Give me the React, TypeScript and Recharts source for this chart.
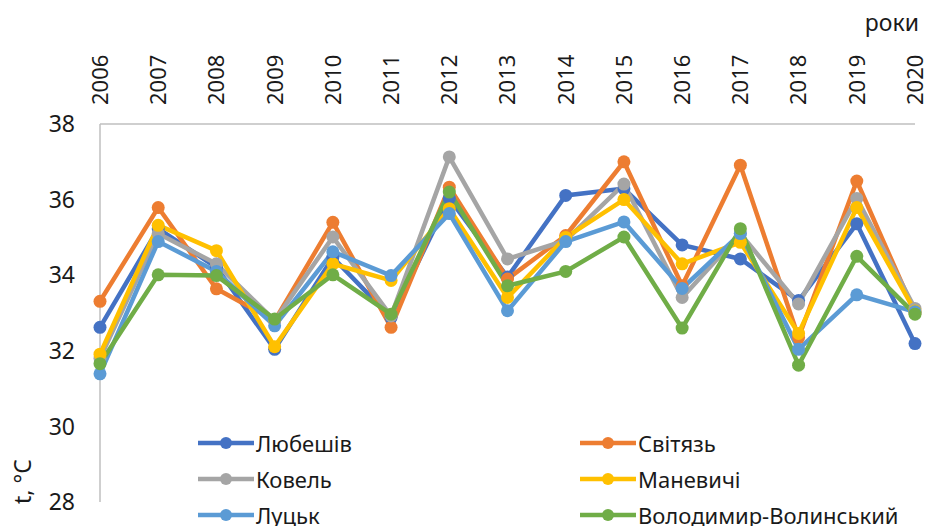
import { LineChart, Line, XAxis, YAxis } from "recharts";

const years = [
  "2006", "2007", "2008", "2009", "2010", "2011", "2012", "2013",
  "2014", "2015", "2016", "2017", "2018", "2019", "2020",
];

const lyubeshiv = [32.62, 35.23, 34.21, 32.04, 34.47, 32.88, 36.03, 33.95, 36.11, 36.29, 34.8, 34.43, 33.33, 35.36, 32.19];
const svitiaz = [33.31, 35.79, 33.64, 32.8, 35.4, 32.62, 36.33, 33.9, 35.05, 37.0, 33.72, 36.91, 32.35, 36.49, 33.0];
const kovel = [31.8, 35.1, 34.3, 32.8, 35.01, 32.92, 37.13, 34.43, 34.92, 36.41, 33.41, 35.1, 33.24, 36.03, 33.12];
const manevychi = [31.91, 35.32, 34.65, 32.11, 34.3, 33.86, 35.76, 33.41, 35.0, 36.0, 34.3, 34.87, 32.46, 35.79, 33.05];
const lutsk = [31.39, 34.89, 34.1, 32.66, 34.62, 33.99, 35.63, 33.06, 34.89, 35.41, 33.65, 35.1, 32.04, 33.48, 33.03];
const volodymyr = [31.66, 34.01, 33.99, 32.84, 34.01, 32.97, 36.2, 33.72, 34.1, 35.01, 32.6, 35.23, 31.62, 34.5, 32.97];

const yTicks = [28, 30, 32, 34, 36, 38];

const series = [
  { key: "Любешів", values: lyubeshiv, color: "#4472C4" },
  { key: "Світязь", values: svitiaz, color: "#ED7D31" },
  { key: "Ковель", values: kovel, color: "#A5A5A5" },
  { key: "Маневичі", values: manevychi, color: "#FFC000" },
  { key: "Луцьк", values: lutsk, color: "#5B9BD5" },
  { key: "Володимир-Волинський", values: volodymyr, color: "#70AD47" },
];

const data = years.map((year, i) => {
  const row: Record<string, string | number> = { year };
  series.forEach((s) => {
    row[s.key] = s.values[i];
  });
  return row;
});

const FONT = "'Noto Sans', sans-serif";
const TEXT = "#1a1a1a";

function YearTick(props: any) {
  const { x, payload } = props;
  return (
    <text
      transform={`translate(${x},105) rotate(-90)`}
      textAnchor="start"
      dy="0.36em"
      fontSize={22}
      fontFamily={FONT}
      fill={TEXT}
    >
      {payload.value}
    </text>
  );
}

// legend drawn as an overlay so it doesn't shrink the plot area
function LegendBox() {
  return (
    <div
      style={{
        position: "absolute",
        left: 198,
        top: 425,
        display: "grid",
        gridTemplateColumns: "382px 350px",
        fontFamily: FONT,
        fontSize: 22,
        color: TEXT,
        whiteSpace: "nowrap",
      }}
    >
      {series.map((s) => (
        <div key={s.key} style={{ display: "flex", alignItems: "center", height: 36 }}>
          <svg width={56} height={16} style={{ marginRight: 2, flex: "none" }}>
            <line x1={0} y1={8} x2={56} y2={8} stroke={s.color} strokeWidth={4.5} />
            <circle cx={28} cy={8} r={6} fill={s.color} />
          </svg>
          <span>{s.key}</span>
        </div>
      ))}
    </div>
  );
}

export default function App() {
  return (
    <div style={{ position: "absolute", left: 0, top: 0, width: 928, height: 526, background: "#fff", overflow: "hidden" }}>
      <LineChart
        width={928}
        height={526}
        data={data}
        margin={{ top: 0, right: 13, bottom: 24, left: 0 }}
      >
        <XAxis
          dataKey="year"
          orientation="top"
          height={124}
          interval={0}
          tickLine={false}
          axisLine={{ stroke: "#BFBFBF", strokeWidth: 1.5 }}
          tick={<YearTick />}
        />
        <YAxis
          domain={[28, 38]}
          ticks={yTicks}
          width={100}
          tickLine={false}
          tickSize={0}
          tickMargin={25}
          axisLine={{ stroke: "#BFBFBF", strokeWidth: 1.5 }}
          tick={{ fontSize: 23, fill: TEXT, fontFamily: FONT }}
        />
        {series.map((s) => (
          <Line
            key={s.key}
            dataKey={s.key}
            stroke={s.color}
            strokeWidth={4.5}
            dot={{ r: 6.5, fill: s.color, stroke: s.color, strokeWidth: 0 }}
            activeDot={false}
            isAnimationActive={false}
          />
        ))}
      </LineChart>
      <LegendBox />
      <div
        style={{
          position: "absolute",
          right: 9,
          top: 6,
          fontFamily: FONT,
          fontSize: 23,
          color: TEXT,
        }}
      >
        роки
      </div>
      <svg style={{ position: "absolute", left: 0, top: 0 }} width={60} height={526}>
        <text
          transform="translate(31,504) rotate(-90)"
          textAnchor="start"
          fontSize={23}
          fontFamily={FONT}
          fill={TEXT}
        >
          t, °C
        </text>
      </svg>
    </div>
  );
}
